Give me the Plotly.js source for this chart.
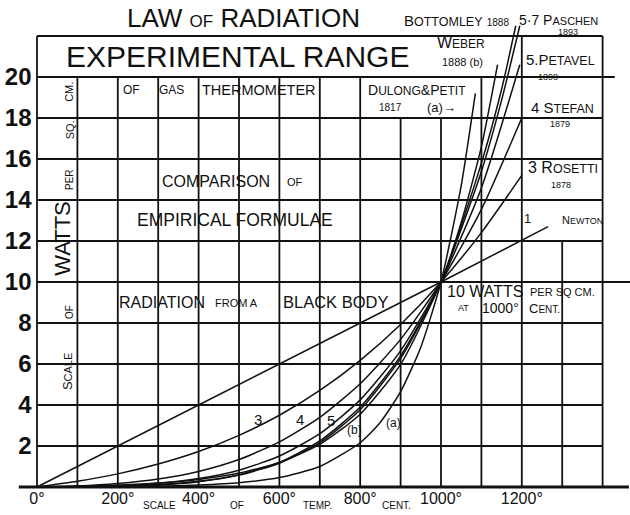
<!DOCTYPE html>
<html><head><meta charset="utf-8">
<script src="https://cdn.plot.ly/plotly-3.0.1.min.js"></script>
<style>html,body{margin:0;padding:0;background:#fff}#chart{width:630px;height:515px}</style>
</head><body><div id="chart"></div>
<script>
// ---------------- data ----------------
const tempTicks = [0, 200, 400, 600, 800, 1000, 1200];
const tempTickLabels = ['0°', '200°', '400°', '600°', '800°', '1000°', '1200°'];
const wattTicks = [2, 4, 6, 8, 10, 12, 14, 16, 18, 20];
const wattTickLabels = ['2', '4', '6', '8', '10', '12', '14', '16', '18', '20'];

const newtonTemp = [0, 1000, 1265];
const newtonWatts = [0, 10, 12.7];

const rosettiTemp = [0, 100, 200, 300, 400, 500, 600, 700, 800, 900, 1000, 1100, 1200];
const rosettiWatts = [0, 0.28, 0.64, 1.12, 1.73, 2.52, 3.50, 4.71, 6.18, 7.93, 10, 12.41, 15.2];

const stefanTemp = [0, 100, 200, 300, 400, 500, 600, 700, 800, 900, 1000, 1100, 1200];
const stefanWatts = [0, 0.05, 0.17, 0.39, 0.76, 1.34, 2.20, 3.40, 5.04, 7.20, 10, 13.54, 18.0];

const petavelTemp = [0, 100, 200, 300, 400, 500, 600, 700, 800, 900, 1000, 1100, 1195];
const petavelWatts = [0, 0.02, 0.07, 0.18, 0.41, 0.82, 1.51, 2.60, 4.25, 6.64, 10, 14.59, 20.6];

const paschenTemp = [0, 100, 200, 300, 400, 500, 600, 700, 800, 900, 1000, 1100, 1150, 1195];
const paschenWatts = [0, 0.01, 0.03, 0.10, 0.26, 0.58, 1.16, 2.16, 3.77, 6.27, 10, 15.39, 18.87, 22.5];

const bottomleyTemp = [0, 100, 200, 300, 400, 500, 600, 700, 800, 900, 1000, 1100, 1150, 1185];
const bottomleyWatts = [0, 0.01, 0.04, 0.12, 0.28, 0.60, 1.20, 2.25, 3.90, 6.40, 10, 15.8, 19.4, 22.5];

const weberTemp = [0, 100, 200, 300, 400, 500, 600, 700, 800, 900, 1000, 1050, 1100, 1140];
const weberWatts = [0, 0.03, 0.09, 0.19, 0.37, 0.68, 1.20, 2.08, 3.55, 5.98, 10, 12.9, 16.6, 20.6];

const dulongTemp = [0, 100, 200, 300, 400, 500, 600, 700, 800, 850, 900, 950, 1000, 1050, 1085];
const dulongWatts = [0, 0.01, 0.02, 0.04, 0.10, 0.21, 0.46, 1.00, 2.16, 3.16, 4.65, 6.82, 10, 14.7, 19.2];

// ---------------- drawing ----------------
const INK = '#111';
const FONT = 'Liberation Sans, Arial, Helvetica, sans-serif';

const series = [
  [newtonTemp, newtonWatts, 'Newton', 'linear'],
  [rosettiTemp, rosettiWatts, 'Rosetti 1878', 'spline'],
  [stefanTemp, stefanWatts, 'Stefan 1879', 'spline'],
  [petavelTemp, petavelWatts, 'Petavel 1898', 'spline'],
  [paschenTemp, paschenWatts, 'Paschen 1893', 'spline'],
  [bottomleyTemp, bottomleyWatts, 'Bottomley 1888', 'spline'],
  [weberTemp, weberWatts, 'Weber 1888', 'spline'],
  [dulongTemp, dulongWatts, 'Dulong & Petit 1817', 'spline']
];
const traces = series.map(([x, y, name, shape]) => ({
  type: 'scatter', mode: 'lines', x: x, y: y, name: name,
  line: {color: INK, width: 1.5, shape: shape, smoothing: 0.6},
  hoverinfo: 'skip'
}));

// grid drawn as shapes in data coordinates
const shapes = [];
for (let t = 0; t <= 1400; t += 100) {
  let top = 20;
  if (t === 0 || t === 1400 || t === 1200) top = 22;
  else if (t === 900 || t === 1000) top = 18;
  else if (t === 1300) top = 12;
  shapes.push({type: 'line', xref: 'x', yref: 'y', x0: t, x1: t, y0: 0, y1: top,
    line: {color: INK, width: 1.8}});
}
for (let w = 2; w <= 22; w += 2) {
  let right = 1400;
  if (w === 20) right = 1430;
  if (w === 10) right = 1470;
  shapes.push({type: 'line', xref: 'x', yref: 'y', x0: 0, x1: right, y0: w, y1: w,
    line: {color: INK, width: 1.8}});
}
shapes.push({type: 'line', xref: 'x', yref: 'y', x0: -45, x1: 1465, y0: 0, y1: 0,
  line: {color: INK, width: 3}});

function sm(s, px) { return `<span style="font-size:${px}px">${s}</span>`; }
const anns = [];
function A(text, x, y, size, extra) {
  anns.push(Object.assign({text: text, x: x, y: y, xref: 'x', yref: 'y', showarrow: false,
    xanchor: 'center', yanchor: 'middle', font: {family: FONT, size: size, color: INK}}, extra || {}));
}
A('LAW ' + sm('OF', 17) + ' RADIATION', 510, 22.88, 26);
A('B' + sm('OTTOMLEY', 12.5) + ' ' + sm('1888', 10), 1038, 22.78, 15);
A('5·7 P' + sm('ASCHEN', 11), 1290, 22.8, 14);
A('1893', 1314, 22.2, 9);
A('EXPERIMENTAL RANGE', 497.5, 20.98, 30);
A('W' + sm('EBER', 12), 1049.5, 21.66, 16);
A('1888 (b)', 1054, 20.73, 11);
A('5.P' + sm('ETAVEL', 12.5), 1294.6, 20.86, 15);
A('1898', 1265, 20.02, 9);
A('OF', 233, 19.37, 12);
A('GAS', 332, 19.37, 12);
A('THERMOMETER', 549.5, 19.37, 14.5);
A('D' + sm('ULONG', 12) + '&amp;P' + sm('ETIT', 12), 940.6, 19.37, 14);
A('1817', 874, 18.49, 10);
A('(a)→', 1000, 18.49, 13);
A('4 S' + sm('TEFAN', 12.5), 1299.5, 18.5, 15);
A('1879', 1294.6, 17.72, 9);
A('3 R' + sm('OSETTI', 12.5), 1302, 15.6, 16);
A('1878', 1297, 14.72, 9);
A('1', 1215, 13.12, 13);
A('N' + sm('EWTON', 9), 1349, 13.02, 11);
A('COMPARISON', 444, 14.88, 16);
A('OF', 638.6, 14.88, 11);
A('EMPIRICAL FORMULAE', 489, 13.02, 17.5);
A('RADIATION', 309, 9.02, 16);
A('FROM A', 495, 9.0, 11);
A('BLACK BODY', 740, 9.02, 16.5);
A('10 WATTS', 1107.7, 9.56, 16);
A('PER SQ CM.', 1300.7, 9.51, 11);
A('AT', 1055.7, 8.73, 9);
A('1000°', 1147, 8.73, 14);
A('C' + sm('ENT.', 10), 1256, 8.73, 13);
A('3', 548, 3.3, 15);
A('4', 652, 3.3, 15);
A('5', 727, 3.25, 15);
A('(b)', 787, 2.78, 12);
A('(a)', 882, 3.1, 12);
A('SCALE', 304, -0.88, 10);
A('OF', 495, -0.88, 10);
A('TEMP.', 695.5, -0.88, 10);
A('CENT.', 891, -0.88, 10);
// vertical axis title pieces
A('WATTS', 64, 12.15, 22, {textangle: -90});
A('PER', 82, 14.98, 10, {textangle: -90});
A('SQ.', 82, 17.41, 11, {textangle: -90});
A('CM.', 79, 19.27, 11, {textangle: -90});
A('OF', 82, 8.54, 10, {textangle: -90});
A('S' + sm('CALE', 11), 77, 5.61, 13, {textangle: -90});

// plot area covers the whole figure: x px = 37 + 0.404*T, y px = 487 - 20.5*W
const layout = {
  width: 630, height: 515,
  margin: {l: 0, r: 0, t: 0, b: 0, pad: 0},
  paper_bgcolor: '#fff', plot_bgcolor: '#fff',
  showlegend: false,
  xaxis: {range: [-91.58, 1467.82], showgrid: false, zeroline: false, showline: false,
    tickvals: tempTicks, ticktext: tempTickLabels, ticks: '', anchor: 'free', position: 0.054,
    tickfont: {family: FONT, size: 16, color: INK}, fixedrange: true},
  yaxis: {range: [-1.3659, 23.7561], showgrid: false, zeroline: false, showline: false,
    tickvals: wattTicks, ticktext: wattTickLabels, ticks: '', anchor: 'free', position: 0.05,
    tickfont: {family: FONT, size: 24, color: INK, weight: 'bold'}, fixedrange: true},
  shapes: shapes,
  annotations: anns
};
Plotly.newPlot('chart', traces, layout, {staticPlot: true, displayModeBar: false});
</script></body></html>
